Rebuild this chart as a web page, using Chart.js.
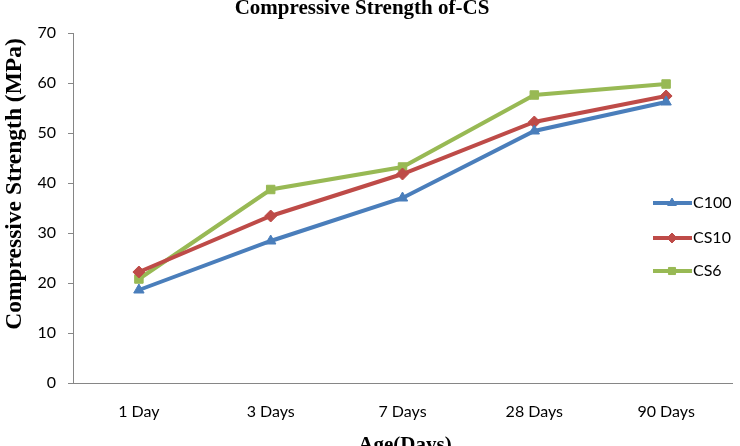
<!DOCTYPE html>
<html>
<head>
<meta charset="utf-8">
<script src="https://cdn.jsdelivr.net/npm/chart.js@4/dist/chart.umd.min.js"></script>
<style>
  html, body { margin: 0; padding: 0; background: #fff; overflow: hidden; }
  #wrap { position: relative; width: 740px; height: 446px; }
</style>
</head>
<body>
<div id="wrap"><canvas id="chart-area" width="740" height="446"></canvas></div>
<script>
// chart values
var ages = ['1 Day', '3 Days', '7 Days', '28 Days', '90 Days'];
var c100 = [18.6, 28.4, 37.0, 50.4, 56.2];
var cs10 = [22.2, 33.4, 41.8, 52.2, 57.4];
var cs6 = [20.8, 38.7, 43.2, 57.6, 59.8];
var yTicks = [0, 10, 20, 30, 40, 50, 60, 70];

var chartTitle = 'Compressive Strength of-CS';
var xTitle = 'Age(Days)';
var yTitle = 'Compressive Strength (MPa)';

var tickFont = { family: 'Lato, "Open Sans", sans-serif', size: 16 };

// titles and legend drawn by hand, like the original sheet
var extraText = {
  id: 'extraText',
  afterDraw: function(chart) {
    var ctx = chart.ctx;
    ctx.save();
    ctx.fillStyle = '#000';
    ctx.font = 'bold 21px "Liberation Serif", "Times New Roman", serif';
    ctx.textAlign = 'center';
    ctx.textBaseline = 'alphabetic';
    ctx.fillText(chartTitle, 362, 14);
    ctx.fillText(xTitle, 405, 451);

    ctx.save();
    ctx.font = 'bold 23.5px "Liberation Serif", "Times New Roman", serif';
    ctx.translate(15, 184);
    ctx.rotate(-Math.PI / 2);
    ctx.textBaseline = 'middle';
    ctx.fillText(yTitle, 0, 0);
    ctx.restore();

    // legend: line + marker + name
    var rows = [203, 238, 271];
    chart.data.datasets.forEach(function(ds, i) {
      var y = rows[i];
      ctx.strokeStyle = ds.borderColor;
      ctx.lineWidth = 4;
      ctx.beginPath();
      ctx.moveTo(653, y);
      ctx.lineTo(692, y);
      ctx.stroke();
      ctx.fillStyle = ds.backgroundColor;
      ctx.lineWidth = 1;
      Chart.helpers.drawPoint(ctx, {
        pointStyle: ds.pointStyle,
        radius: 5,
        borderWidth: 1
      }, 672, y);
    });

    ctx.font = '16px Lato, "Open Sans", sans-serif';
    ctx.fillStyle = '#000';
    ctx.textAlign = 'left';
    ctx.textBaseline = 'middle';
    chart.data.datasets.forEach(function(ds, i) {
      ctx.fillText(ds.label, 693, rows[i]);
    });
    ctx.restore();
  }
};

var config = {
  type: 'line',
  data: {
    labels: ages,
    datasets: [
      { label: 'C100', data: c100, borderColor: '#4A7EBB', backgroundColor: '#4A7EBB', pointStyle: 'triangle', pointRadius: 6 },
      { label: 'CS10', data: cs10, borderColor: '#BE4B48', backgroundColor: '#BE4B48', pointStyle: 'rectRot', pointRadius: 6 },
      { label: 'CS6', data: cs6, borderColor: '#98B954', backgroundColor: '#98B954', pointStyle: 'rect', pointRadius: 6 }
    ]
  },
  options: {
    responsive: false,
    animation: false,
    layout: { padding: { top: 33, right: 8, left: 0, bottom: 0 } },
    elements: {
      line: { borderWidth: 4, tension: 0 },
      point: { borderWidth: 1 }
    },
    plugins: {
      legend: { display: false },
      title: { display: false },
      tooltip: { enabled: false }
    },
    scales: {
      x: {
        offset: true,
        grid: { display: false, drawTicks: false },
        border: { display: true, color: '#868686', width: 1 },
        ticks: { color: '#000', font: tickFont, padding: 19, maxRotation: 0 },
        afterFit: function(scale) { scale.height = 63; }
      },
      y: {
        min: 0,
        max: 70,
        afterBuildTicks: function(scale) {
          scale.ticks = yTicks.map(function(v) { return { value: v }; });
        },
        grid: { display: true, drawOnChartArea: false, drawTicks: true, tickLength: 5, color: '#868686' },
        border: { display: true, color: '#868686', width: 1 },
        ticks: { color: '#000', font: tickFont, padding: 12 },
        afterFit: function(scale) { scale.width = 73; }
      }
    }
  },
  plugins: [extraText]
};

var ctx = document.getElementById('chart-area').getContext('2d');
window.myLine = new Chart(ctx, config);
</script>
</body>
</html>
